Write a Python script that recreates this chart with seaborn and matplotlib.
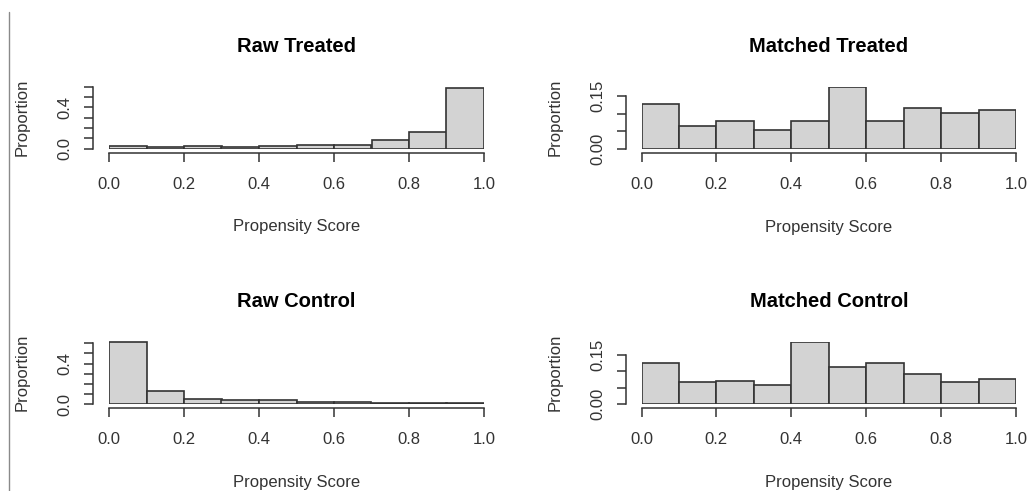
import numpy as np
import seaborn as sns
import matplotlib.pyplot as plt
from matplotlib.lines import Line2D

# bin edges of the propensity score histograms
bin_edges = [0.0, 0.1, 0.2, 0.3, 0.4, 0.5, 0.6, 0.7, 0.8, 0.9, 1.0]

# proportion of units falling in each bin
raw_treated = [0.028, 0.013, 0.028, 0.013, 0.028, 0.038, 0.038, 0.085, 0.161, 0.59]
matched_treated = [0.127, 0.065, 0.080, 0.055, 0.080, 0.175, 0.080, 0.116, 0.103, 0.109]
raw_control = [0.61, 0.129, 0.053, 0.036, 0.036, 0.023, 0.023, 0.013, 0.013, 0.013]
matched_control = [0.127, 0.066, 0.071, 0.058, 0.189, 0.113, 0.127, 0.091, 0.066, 0.078]

x_ticks = [0.0, 0.2, 0.4, 0.6, 0.8, 1.0]
x_tick_labels = ["0.0", "0.2", "0.4", "0.6", "0.8", "1.0"]
raw_y_ticks = [0.0, 0.1, 0.2, 0.3, 0.4, 0.5, 0.6]
raw_y_labels = ["0.0", "", "", "", "0.4", "", ""]
matched_y_ticks = [0.0, 0.05, 0.10, 0.15]
matched_y_labels = ["0.00", "", "", "0.15"]

sns.set_theme(style="white")
plt.rcParams['font.family'] = ['Liberation Sans', 'DejaVu Sans']

W, H = 1030, 491
fig = plt.figure(figsize=(W / 100, H / 100), dpi=100)

INK = "#333333"


def make_axes(x0, x1, ybase, yref_px, yref_val, ytop_val):
    # place the data region in pixel terms, like R's plot region
    scale = (ybase - yref_px) / yref_val
    ytop_px = ybase - scale * ytop_val
    return fig.add_axes([x0 / W, 1 - ybase / H, (x1 - x0) / W, (ybase - ytop_px) / H]), ytop_val


def draw_hist(ax, ytop, values, title, yticks, ylabels, ylab_x, ylab_y):
    mids = [(a + b) / 2 for a, b in zip(bin_edges[:-1], bin_edges[1:])]
    sns.histplot(x=mids, weights=values, bins=bin_edges, stat="count", ax=ax,
                 color="#D3D3D3", edgecolor=INK, linewidth=1.2, alpha=1)
    ax.set_xlim(0, 1)
    ax.set_ylim(0, ytop)
    for s in ["top", "right"]:
        ax.spines[s].set_visible(False)
    ax.spines["left"].set_position(("outward", 11.5))
    ax.spines["bottom"].set_position(("outward", 3))
    ax.spines["left"].set_bounds(yticks[0], yticks[-1])
    ax.spines["bottom"].set_bounds(0, 1)
    for s in ["left", "bottom"]:
        ax.spines[s].set_color(INK)
        ax.spines[s].set_linewidth(1.1)
    ax.set_xticks(x_ticks)
    ax.set_xticklabels(x_tick_labels)
    ax.set_yticks(yticks)
    ax.set_yticklabels(ylabels, rotation=90, va="center")
    ax.tick_params(axis="both", direction="out", length=6.7, width=1.1, color=INK,
                   labelcolor=INK, labelsize=12, left=True, bottom=True)
    ax.tick_params(axis="x", pad=10.5)
    ax.tick_params(axis="y", pad=8)
    ax.set_title(title, fontsize=14.5, fontweight="bold", color="black", pad=25)
    ax.set_xlabel("Propensity Score", fontsize=12, color=INK, labelpad=20)
    ax.set_ylabel("Proportion", fontsize=12, color=INK, va="center")
    ax.yaxis.set_label_coords(ylab_x / W, 1 - ylab_y / H, transform=fig.transFigure)
    ax.grid(False)


ax1, t1 = make_axes(109, 484, 148.5, 86.7, 0.6, 0.6)
draw_hist(ax1, t1, raw_treated, "Raw Treated", raw_y_ticks, raw_y_labels, 22, 117)

ax2, t2 = make_axes(641.5, 1016, 149, 96, 0.15, 0.176)
draw_hist(ax2, t2, matched_treated, "Matched Treated", matched_y_ticks, matched_y_labels, 555, 117)

ax3, t3 = make_axes(109, 484, 404, 343.3, 0.6, 0.62)
draw_hist(ax3, t3, raw_control, "Raw Control", raw_y_ticks, raw_y_labels, 22, 372)

ax4, t4 = make_axes(641.5, 1016, 404, 355, 0.15, 0.19)
draw_hist(ax4, t4, matched_control, "Matched Control", matched_y_ticks, matched_y_labels, 555, 372)

# thin border line at the left edge of the screenshot
fig.add_artist(Line2D([9 / W, 9 / W], [0, 1 - 12 / H], transform=fig.transFigure,
                      color="#8a8a8a", linewidth=1))

fig.savefig("out.png", dpi=100)
